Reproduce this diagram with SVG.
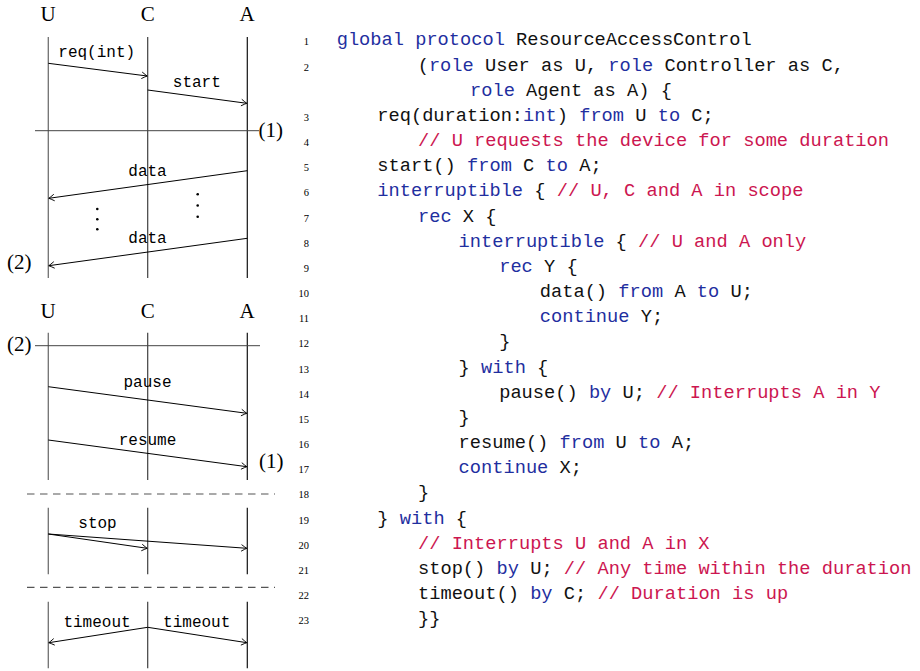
<svg xmlns="http://www.w3.org/2000/svg" width="920" height="671" viewBox="0 0 920 671">
<defs>
<marker id="ah" markerUnits="userSpaceOnUse" markerWidth="10" markerHeight="10" viewBox="-6 -5 10 10" refX="0" refY="0" orient="auto" overflow="visible">
<path d="M-5.5,-3.3 Q-1.8,-0.9 0,0 Q-1.8,0.9 -5.5,3.3" fill="none" stroke="#000" stroke-width="0.9"/>
</marker>
</defs>
<style>
.role { font-family: "Liberation Serif", serif; font-size: 21px; text-anchor: middle; fill: #000; }
.lbl { font-family: "Liberation Mono", monospace; font-size: 16px; text-anchor: middle; fill: #000; }
.ref { font-family: "Liberation Serif", serif; font-size: 21px; fill: #000; }
.msg { stroke: #000; stroke-width: 1; fill: none; marker-end: url(#ah); }
.lu { stroke: #707070; stroke-width: 1.3; }
.lc { stroke: #404040; stroke-width: 1.2; }
.la { stroke: #111; stroke-width: 1.2; }
.sep { stroke: #444; stroke-width: 1; }
.dash { stroke: #555; stroke-width: 1.2; stroke-dasharray: 7.5 5.5; }
.code { font-family: "Liberation Mono", monospace; font-size: 18.7px; fill: #111; white-space: pre; }
.k { fill: #1f2f9f; }
.c { fill: #cc1650; }
.ln { font-family: "Liberation Serif", serif; font-size: 10.5px; text-anchor: end; fill: #000; }
</style>

<g id="section1">
  <g id="headers1">
    <text class="role" x="48" y="21">U</text>
    <text class="role" x="147.7" y="21">C</text>
    <text class="role" x="247" y="21">A</text>
  </g>
  <g id="lifelines1">
    <line class="lu" x1="48.3" y1="37" x2="48.3" y2="278"/>
    <line class="lc" x1="147.7" y1="37" x2="147.7" y2="278"/>
    <line class="la" x1="247.3" y1="37" x2="247.3" y2="278"/>
  </g>
  <g id="marker1">
    <line class="sep" x1="35" y1="130.7" x2="259" y2="130.7"/>
    <text class="ref" x="258.5" y="136.5">(1)</text>
  </g>
  <g id="dots">
    <circle cx="97.3" cy="209" r="1.3"/>
    <circle cx="97.3" cy="219.2" r="1.3"/>
    <circle cx="97.3" cy="229.3" r="1.3"/>
    <circle cx="197.7" cy="194.3" r="1.3"/>
    <circle cx="197.7" cy="205.5" r="1.3"/>
    <circle cx="197.7" cy="216.7" r="1.3"/>
  </g>
  <text class="ref" x="7" y="269">(2)</text>
</g>

<g id="section2">
  <g id="headers2">
    <text class="role" x="48" y="318.3">U</text>
    <text class="role" x="147.7" y="318.3">C</text>
    <text class="role" x="247" y="318.3">A</text>
  </g>
  <g id="lifelines2">
    <line class="lu" x1="48.3" y1="332.7" x2="48.3" y2="480"/>
    <line class="lc" x1="147.7" y1="332.7" x2="147.7" y2="480"/>
    <line class="la" x1="247.3" y1="332.7" x2="247.3" y2="480"/>
  </g>
  <g id="marker2">
    <line class="sep" x1="35" y1="345.7" x2="260" y2="345.7"/>
    <text class="ref" x="7" y="351.2">(2)</text>
  </g>
  <text class="ref" x="259" y="468">(1)</text>
</g>

<g id="section3">
  <line class="dash" x1="27" y1="494" x2="275" y2="494"/>
  <g id="lifelines3">
    <line class="lu" x1="48.3" y1="507.7" x2="48.3" y2="574.3"/>
    <line class="lc" x1="147.7" y1="507.7" x2="147.7" y2="574.3"/>
    <line class="la" x1="247.3" y1="507.7" x2="247.3" y2="574.3"/>
  </g>
</g>

<g id="section4">
  <line class="dash" x1="27" y1="587.3" x2="275" y2="587.3"/>
  <g id="lifelines4">
    <line class="lu" x1="48.3" y1="601.7" x2="48.3" y2="668.3"/>
    <line class="lc" x1="147.7" y1="601.7" x2="147.7" y2="668.3"/>
    <line class="la" x1="247.3" y1="601.7" x2="247.3" y2="668.3"/>
  </g>
</g>

<g id="connectors">
  <line class="msg" x1="48.3" y1="63.3" x2="147.2" y2="76"/>
  <text class="lbl" x="96.7" y="56.7">req(int)</text>
  <line class="msg" x1="147.7" y1="90" x2="246.8" y2="103.3"/>
  <text class="lbl" x="196.8" y="87.3">start</text>
  <line class="msg" x1="247.3" y1="170.7" x2="48.8" y2="198.3"/>
  <text class="lbl" x="147.5" y="176">data</text>
  <line class="msg" x1="247.3" y1="238.3" x2="48.8" y2="265.7"/>
  <text class="lbl" x="147.5" y="242.7">data</text>
  <line class="msg" x1="48.3" y1="386.7" x2="246.8" y2="413.3"/>
  <text class="lbl" x="147.5" y="386.7">pause</text>
  <line class="msg" x1="48.3" y1="440" x2="246.8" y2="466.7"/>
  <text class="lbl" x="147.5" y="445">resume</text>
  <line class="msg" x1="48.3" y1="534" x2="147.2" y2="548.3"/>
  <line class="msg" x1="48.3" y1="534" x2="246.8" y2="548.3"/>
  <text class="lbl" x="97.5" y="528.3">stop</text>
  <line class="msg" x1="147.7" y1="627.3" x2="48.8" y2="642.7"/>
  <line class="msg" x1="147.7" y1="627.3" x2="246.8" y2="642.7"/>
  <text class="lbl" x="97" y="626.7">timeout</text>
  <text class="lbl" x="196.7" y="626.7">timeout</text>
</g>

<g id="line-numbers">
  <text class="ln" x="309" y="45.3">1</text>
  <text class="ln" x="309" y="70.5">2</text>
  <text class="ln" x="309" y="120.8">3</text>
  <text class="ln" x="309" y="146">4</text>
  <text class="ln" x="309" y="171.2">5</text>
  <text class="ln" x="309" y="196.3">6</text>
  <text class="ln" x="309" y="221.5">7</text>
  <text class="ln" x="309" y="246.7">8</text>
  <text class="ln" x="309" y="271.8">9</text>
  <text class="ln" x="309" y="297">10</text>
  <text class="ln" x="309" y="322.2">11</text>
  <text class="ln" x="309" y="347.3">12</text>
  <text class="ln" x="309" y="372.5">13</text>
  <text class="ln" x="309" y="397.7">14</text>
  <text class="ln" x="309" y="422.9">15</text>
  <text class="ln" x="309" y="448">16</text>
  <text class="ln" x="309" y="473.2">17</text>
  <text class="ln" x="309" y="498.4">18</text>
  <text class="ln" x="309" y="523.5">19</text>
  <text class="ln" x="309" y="548.7">20</text>
  <text class="ln" x="309" y="573.9">21</text>
  <text class="ln" x="309" y="599">22</text>
  <text class="ln" x="309" y="624.2">23</text>
</g>

<g id="code">
  <text class="code" x="336.7" y="45.3"><tspan class="k">global protocol</tspan> ResourceAccessControl</text>
  <text class="code" x="417.7" y="70.5">(<tspan class="k">role</tspan> User as U, <tspan class="k">role</tspan> Controller as C,</text>
  <text class="code" x="470" y="95.6"><tspan class="k">role</tspan> Agent as A) {</text>
  <text class="code" x="377.3" y="120.8">req(duration:<tspan class="k">int</tspan>) <tspan class="k">from</tspan> U <tspan class="k">to</tspan> C;</text>
  <text class="code" x="418" y="146"><tspan class="c">// U requests the device for some duration</tspan></text>
  <text class="code" x="377.3" y="171.2">start() <tspan class="k">from</tspan> C <tspan class="k">to</tspan> A;</text>
  <text class="code" x="377.3" y="196.3"><tspan class="k">interruptible</tspan> { <tspan class="c">// U, C and A in scope</tspan></text>
  <text class="code" x="418" y="221.5"><tspan class="k">rec</tspan> X {</text>
  <text class="code" x="458.6" y="246.7"><tspan class="k">interruptible</tspan> { <tspan class="c">// U and A only</tspan></text>
  <text class="code" x="499.2" y="271.8"><tspan class="k">rec</tspan> Y {</text>
  <text class="code" x="539.8" y="297">data() <tspan class="k">from</tspan> A <tspan class="k">to</tspan> U;</text>
  <text class="code" x="539.8" y="322.2"><tspan class="k">continue</tspan> Y;</text>
  <text class="code" x="499.2" y="347.3">}</text>
  <text class="code" x="458.6" y="372.5">} <tspan class="k">with</tspan> {</text>
  <text class="code" x="499.2" y="397.7">pause() <tspan class="k">by</tspan> U; <tspan class="c">// Interrupts A in Y</tspan></text>
  <text class="code" x="458.6" y="422.9">}</text>
  <text class="code" x="458.6" y="448">resume() <tspan class="k">from</tspan> U <tspan class="k">to</tspan> A;</text>
  <text class="code" x="458.6" y="473.2"><tspan class="k">continue</tspan> X;</text>
  <text class="code" x="418" y="498.4">}</text>
  <text class="code" x="377.3" y="523.5">} <tspan class="k">with</tspan> {</text>
  <text class="code" x="418" y="548.7"><tspan class="c">// Interrupts U and A in X</tspan></text>
  <text class="code" x="418" y="573.9">stop() <tspan class="k">by</tspan> U; <tspan class="c">// Any time within the duration</tspan></text>
  <text class="code" x="418" y="599">timeout() <tspan class="k">by</tspan> C; <tspan class="c">// Duration is up</tspan></text>
  <text class="code" x="418" y="624.2">}}</text>
</g>
</svg>
